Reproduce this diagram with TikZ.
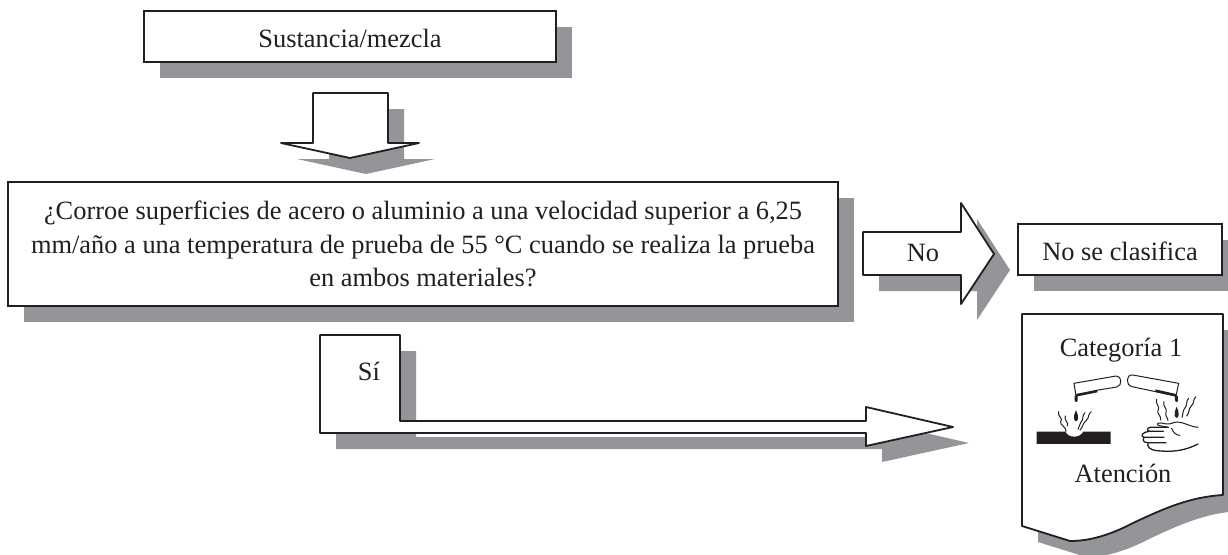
\documentclass[tikz,border=0pt]{standalone}
\usepackage{fontspec}
\setmainfont{Liberation Serif}
\usetikzlibrary{shadows}
\definecolor{linea}{HTML}{231F20}
\definecolor{gris}{HTML}{939598}
\tikzset{
  caja/.style={draw=linea,fill=white,line width=1.8pt,inner sep=0pt,align=center,text=linea,font=\fontsize{26.4}{33.5}\selectfont,
    execute at begin node={\rule{0pt}{22pt}},
    drop shadow={shadow xshift=16pt,shadow yshift=-16pt,fill=gris,opacity=1}},
  rotulo/.style={inner sep=0pt,text=linea,font=\fontsize{26.4}{33.5}\selectfont},
  flecha/.style={draw=linea,fill=white,line width=1.8pt,line join=round},
  sombra/.style={fill=gris,shift={(16,16)}},
  trazo/.style={draw=linea,line width=1pt,line cap=round,line join=round},
  negro/.style={fill=linea,draw=none},
}
\begin{document}
\begin{tikzpicture}[x=1pt,y=-1pt]
        %%
        \clip (0,0) rectangle (1228,554);
        \fill [white] (0,0) rectangle (1228,554);
        %%
        \node (node_mezcla) at (350,36.5) [caja,minimum width=412pt,minimum height=51pt] {Sustancia/mezcla};
        \fill [sombra] (313,93) -- (388,93) -- (388,143) -- (419,143) -- (350,158) -- (281,143) -- (313,143) -- cycle;
        \draw [flecha] (313,93) -- (388,93) -- (388,143) -- (419,143) -- (350,158) -- (281,143) -- (313,143) -- cycle;
        \node (node_pregunta) at (423,244) [caja,minimum width=830pt,minimum height=124pt] {¿Corroe superficies de acero o aluminio a una velocidad superior a 6,25\\mm/año a una temperatura de prueba de 55 °C cuando se realiza la prueba\\en ambos materiales?};
        %%
        \fill [sombra] (863,232) -- (961,232) -- (961,203) -- (994,254) -- (961,304) -- (961,275) -- (863,275) -- cycle;
        \draw [flecha] (863,232) -- (961,232) -- (961,203) -- (994,254) -- (961,304) -- (961,275) -- (863,275) -- cycle;
        \node (node_no) at (923,253) [rotulo] {No};
        \node (node_clasifica) at (1120,249.5) [caja,minimum width=204pt,minimum height=51pt] {No se clasifica};
        %%
        \fill [sombra] (320,335) -- (400,335) -- (400,421) -- (866,421) -- (866,407) -- (953,427) -- (866,446) -- (866,433) -- (320,433) -- cycle;
        \draw [flecha] (320,335) -- (400,335) -- (400,421) -- (866,421) -- (866,407) -- (953,427) -- (866,446) -- (866,433) -- (320,433) -- cycle;
        \node (node_si) at (369,371) [rotulo] {Sí};
        %%
        \fill [sombra] (1022,314) -- (1223,314) -- (1223,495) .. controls (1190,497) and (1165,508) .. (1133,523) .. controls (1110,535) and (1090,541) .. (1070,541) -- (1022,526) -- cycle;
        \draw [flecha] (1022,314) -- (1223,314) -- (1223,495) .. controls (1190,497) and (1165,508) .. (1133,523) .. controls (1110,535) and (1090,541) .. (1070,541) -- (1022,526) -- cycle;
        \node (node_categoria) at (1121,350) [rotulo] {Categoría 1};
        \node (node_atencion) at (1123,473) [rotulo] {Atención};
        %%
        \begin{scope}[shift={(1000,290)},x=0.3333pt,y=-0.3333pt]
          %% barra
          \fill [negro] (110,425) -- (196,425) .. controls (205,445) and (240,445) .. (250,425) -- (332,425) -- (332,462) -- (110,462) -- cycle;
          %% tubo izquierdo
          \draw [trazo] (222,280) -- (348,258) .. controls (366,256) and (368,288) .. (350,291) -- (290,301);
          \draw [trazo] (222,280) -- (228,318);
          \draw [draw=linea,line width=2.6pt] (228,316) -- (292,303);
          \fill [negro] (224,318) -- (233,318) -- (233,330) .. controls (234,338) and (224,338) .. (224,330) -- cycle;
          \fill [negro] (228,360) .. controls (232,372) and (236,378) .. (234,386) .. controls (232,396) and (224,396) .. (222,386) .. controls (220,378) and (224,372) .. (228,360) -- cycle;
          \draw [trazo] (176,365) .. controls (170,378) and (192,385) .. (182,395) .. controls (178,405) and (200,410) .. (198,425);
          \draw [trazo] (196,378) .. controls (190,390) and (208,398) .. (202,408);
          \draw [trazo] (274,365) .. controls (262,372) and (270,382) .. (258,392) .. controls (248,400) and (250,410) .. (240,420);
          \draw [trazo] (255,368) .. controls (245,378) and (252,388) .. (242,398) .. controls (236,405) and (240,410) .. (234,418);
          %% tubo derecho
          \draw [trazo] (536,280) -- (398,255) .. controls (378,252) and (376,286) .. (396,290) -- (528,318);
          \draw [trazo] (536,280) -- (528,318);
          \draw [draw=linea,line width=2.6pt] (466,302) -- (528,316);
          \fill [negro] (525,318) -- (534,318) -- (534,330) .. controls (535,338) and (525,338) .. (525,330) -- cycle;
          \fill [negro] (530,350) .. controls (534,362) and (538,368) .. (536,376) .. controls (534,386) and (526,386) .. (524,376) .. controls (522,368) and (526,362) .. (530,350) -- cycle;
          \draw [trazo] (470,328) .. controls (464,340) and (482,350) .. (474,362) .. controls (470,370) and (484,378) .. (482,390);
          \draw [trazo] (492,335) .. controls (486,348) and (504,356) .. (498,368) .. controls (494,376) and (504,384) .. (504,392);
          \draw [trazo] (588,320) .. controls (578,328) and (584,338) .. (574,348) .. controls (564,356) and (570,368) .. (560,378);
          \draw [trazo] (566,325) .. controls (556,335) and (564,345) .. (554,355) .. controls (546,365) and (552,372) .. (546,382);
          %% mano
          \draw [trazo] (594,412) .. controls (570,410) and (550,396) .. (532,396) .. controls (520,396) and (512,404) .. (500,402) .. controls (488,400) and (476,396) .. (472,402) .. controls (470,408) and (490,408) .. (505,412);
          \draw [trazo,line width=1.3pt] (505,412) -- (450,412) .. controls (440,414) and (440,424) .. (450,424) -- (490,424);
          \draw [trazo,line width=1.3pt] (450,424) .. controls (426,426) and (420,438) .. (432,442) -- (492,442);
          \draw [trazo,line width=1.3pt] (432,442) .. controls (426,452) and (432,458) .. (444,458) -- (498,458);
          \draw [trazo,line width=1.3pt] (444,458) .. controls (440,470) and (450,480) .. (470,482) .. controls (510,486) and (550,485) .. (594,462);
          \draw [trazo] (515,415) .. controls (520,428) and (528,436) .. (540,436);
        \end{scope}
        %
\end{tikzpicture}
\end{document}
